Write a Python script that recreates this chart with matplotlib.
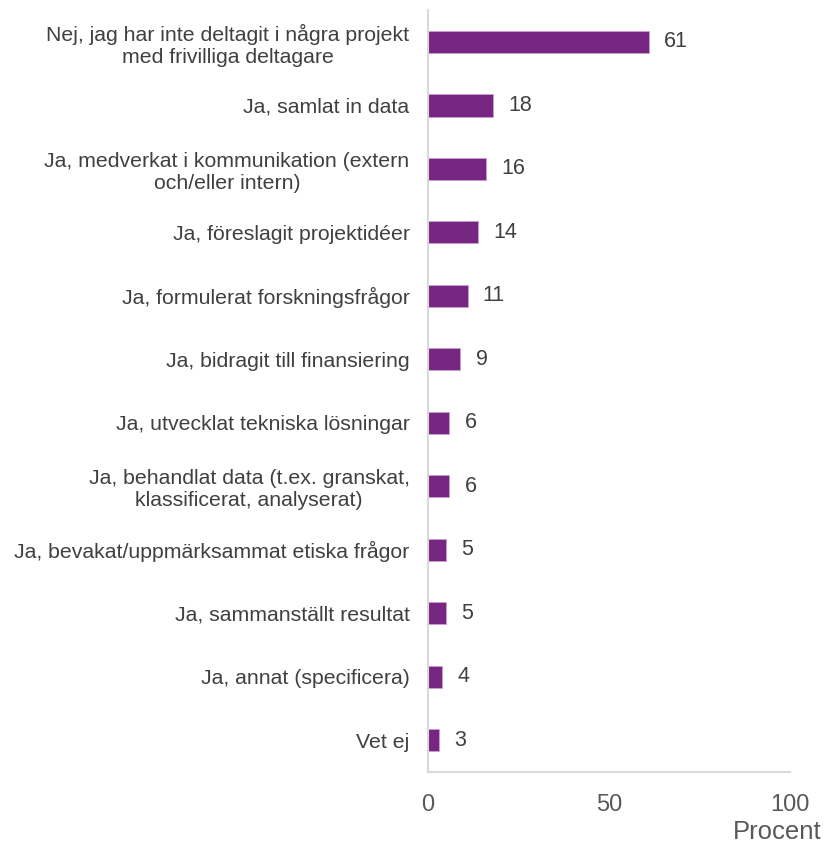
import matplotlib
matplotlib.use("Agg")
import matplotlib.pyplot as plt

categories = [
    "Nej, jag har inte deltagit i några projekt\nmed frivilliga deltagare",
    "Ja, samlat in data",
    "Ja, medverkat i kommunikation (extern\noch/eller intern)",
    "Ja, föreslagit projektidéer",
    "Ja, formulerat forskningsfrågor",
    "Ja, bidragit till finansiering",
    "Ja, utvecklat tekniska lösningar",
    "Ja, behandlat data (t.ex. granskat,\nklassificerat, analyserat)",
    "Ja, bevakat/uppmärksammat etiska frågor",
    "Ja, sammanställt resultat",
    "Ja, annat (specificera)",
    "Vet ej",
]
values = [61, 18, 16, 14, 11, 9, 6, 6, 5, 5, 4, 3]
xticks = [0, 50, 100]

plt.rcParams['font.family'] = ['Liberation Sans', 'DejaVu Sans']

fig = plt.figure(figsize=(8.24, 8.47), dpi=100)
ax = fig.add_axes([0.519, 0.0885, 0.44, 0.8995])

color = "#772681"
pos = list(range(len(categories)))
ax.barh(pos, values, height=0.35, color=color, edgecolor="#C9A0CF", linewidth=0.6)
for p, v in zip(pos, values):
    ax.text(v + 4.2, p, str(v), va="center", ha="left", fontsize=15.5, color="#404040")

ax.set_ylim(11.5, -0.5)
ax.set_xlim(0, 100)
ax.set_yticks(pos)
ax.set_yticklabels(categories, fontsize=15.3, color="#404040", ha="right",
                   multialignment="center", linespacing=1.2)
ax.set_xticks(xticks)
ax.set_xticklabels([str(t) for t in xticks], fontsize=17, color="#595959")
ax.tick_params(axis="both", length=0)
ax.tick_params(axis="y", pad=13)
ax.tick_params(axis="x", pad=16)
for s in ["top", "right"]:
    ax.spines[s].set_visible(False)
for s in ["left", "bottom"]:
    ax.spines[s].set_color("#D9D9D9")
    ax.spines[s].set_linewidth(1.5)

fig.text(0.997, 0.003, "Procent", ha="right", va="bottom", fontsize=18.5, color="#595959")

fig.savefig("out.png", dpi=100, facecolor="white")
